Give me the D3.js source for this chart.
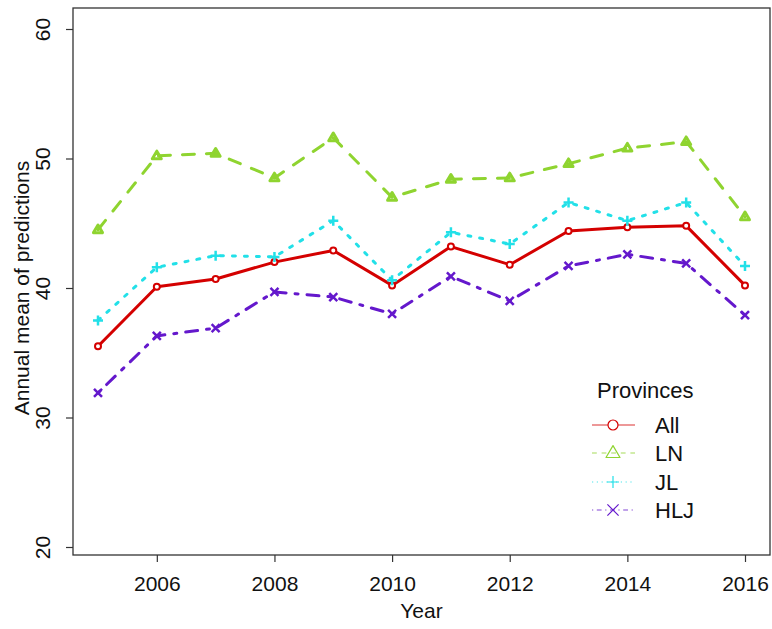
<!DOCTYPE html>
<html><head><meta charset="utf-8">
<script src="https://cdn.jsdelivr.net/npm/d3@7"></script>
<style>body{margin:0;background:#fff}svg{display:block}text{font-family:"Liberation Sans",Arial,sans-serif;fill:#111}</style>
</head><body><svg id="c" width="772" height="629"></svg>
<script>
const years = [2005,2006,2007,2008,2009,2010,2011,2012,2013,2014,2015,2016];
const allVals = [35.5,40.1,40.7,42.0,42.9,40.2,43.2,41.8,44.4,44.7,44.8,40.2];
const lnVals  = [44.5,50.2,50.4,48.5,51.6,47.0,48.4,48.5,49.6,50.8,51.3,45.5];
const jlVals  = [37.5,41.6,42.5,42.4,45.2,40.6,44.3,43.4,46.6,45.2,46.6,41.7];
const hljVals = [31.9,36.3,36.9,39.7,39.3,38.0,40.9,39.0,41.7,42.6,41.9,37.9];
const seriesNames = ["All","LN","JL","HLJ"];
const xTicks = [2006,2008,2010,2012,2014,2016];
const yTicks = [20,30,40,50,60];
const legendTitle = "Provinces";
const xTitle = "Year", yTitle = "Annual mean of predictions";

const colors = ["#d40000","#8fd430","#22e0e8","#6418cc"];
const dashes = [null,"12,12","3,9","3,9,12,9"];
const shapes = ["circle","triangle","plus","cross"];
const data = [allVals,lnVals,jlVals,hljVals];

const svg = d3.select("#c");
const box = {l:73, r:770, t:8, b:555};
const x = d3.scaleLinear().domain([2005,2016]).range([98,745]);
const y = d3.scaleLinear().domain([20,60]).range([547,29]);

svg.append("rect").attr("x",box.l).attr("y",box.t).attr("width",box.r-box.l).attr("height",box.b-box.t)
  .attr("fill","none").attr("stroke","#333").attr("stroke-width",1.3);

const xa = svg.append("g").attr("transform",`translate(0,${box.b})`)
  .call(d3.axisBottom(x).tickValues(xTicks).tickFormat(d3.format("d")).tickSize(7).tickSizeOuter(0));
xa.select(".domain").remove();
xa.selectAll("line").attr("stroke","#333").attr("stroke-width",1.2);
xa.selectAll("text").attr("font-size",21).attr("dy",null).attr("y",36).attr("fill","#111");

const ya = svg.append("g").attr("transform",`translate(${box.l},0)`)
  .call(d3.axisLeft(y).tickValues(yTicks).tickSize(7).tickSizeOuter(0));
ya.select(".domain").remove();
ya.selectAll("line").attr("stroke","#333").attr("stroke-width",1.2);
ya.selectAll("text").attr("font-size",21).attr("x",null).attr("dy",null)
  .attr("transform","translate(-23,0) rotate(-90)").attr("text-anchor","middle").attr("y",0).attr("fill","#111");

svg.append("text").attr("x",(box.l+box.r)/2).attr("y",618).attr("text-anchor","middle").attr("font-size",21).text(xTitle);
svg.append("text").attr("transform",`translate(29,${(29+547)/2}) rotate(-90)`).attr("text-anchor","middle").attr("font-size",21).text(yTitle);

function marker(g, shape, cx, cy, s, col, sw){
  if(shape==="circle") g.append("circle").attr("cx",cx).attr("cy",cy).attr("r",s).attr("fill","#fff").attr("stroke",col).attr("stroke-width",sw);
  else if(shape==="triangle"){
    const h=s*1.7;
    g.append("path").attr("d",`M${cx},${cy-h*0.62}L${cx+s},${cy+h*0.38}L${cx-s},${cy+h*0.38}Z`).attr("fill","none").attr("stroke",col).attr("stroke-width",sw).attr("stroke-linejoin","round");
  } else if(shape==="plus"){
    g.append("path").attr("d",`M${cx-s},${cy}H${cx+s}M${cx},${cy-s}V${cy+s}`).attr("stroke",col).attr("stroke-width",sw);
  } else {
    const a=s*0.8;
    g.append("path").attr("d",`M${cx-a},${cy-a}L${cx+a},${cy+a}M${cx-a},${cy+a}L${cx+a},${cy-a}`).attr("stroke",col).attr("stroke-width",sw);
  }
}

const line = d3.line().x((d,i)=>x(years[i])).y(d=>y(d));
data.forEach((vals,k)=>{
  const g = svg.append("g");
  g.append("path").attr("d",line(vals)).attr("fill","none").attr("stroke",colors[k]).attr("stroke-width",3)
    .attr("stroke-linecap","round").attr("stroke-linejoin","round").attr("stroke-dasharray",dashes[k]);
  const sz = [3,4.5,5,5][k];
  vals.forEach((v,i)=>marker(g,shapes[k],x(years[i]),y(v),sz,colors[k],[2,3,2.5,2.5][k]));
});

// legend
svg.append("text").attr("x",597).attr("y",398).attr("font-size",22).text(legendTitle);
const rowsY = [425,453,482,510];
seriesNames.forEach((n,k)=>{
  const g = svg.append("g");
  g.append("line").attr("x1",592).attr("x2",635).attr("y1",rowsY[k]).attr("y2",rowsY[k])
    .attr("stroke",colors[k]).attr("stroke-width",1.2).attr("stroke-dasharray",dashes[k]?dashes[k].split(",").map(v=>v/2.5).join(","):null).attr("opacity",0.8);
  marker(g,shapes[k],613,rowsY[k],[5,7,6,7][k],colors[k],1.2);
  g.append("text").attr("x",655).attr("y",rowsY[k]+8).attr("font-size",22).text(n);
});
</script></body></html>
